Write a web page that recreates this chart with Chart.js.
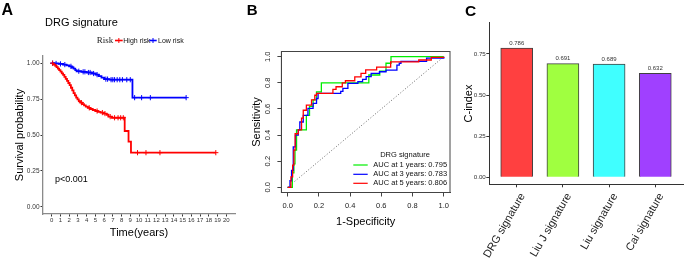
<!DOCTYPE html>
<html><head><meta charset="utf-8">
<script src="https://cdn.jsdelivr.net/npm/chart.js@4.4.1/dist/chart.umd.min.js"></script>
<style>
html,body{margin:0;padding:0;background:#fff;width:685px;height:259px;overflow:hidden;}
canvas{position:absolute;top:0;}
</style></head><body>
<canvas id="a" width="240" height="259" style="left:0px"></canvas>
<canvas id="b" width="220" height="259" style="left:240px"></canvas>
<canvas id="c" width="225" height="259" style="left:460px"></canvas>
<script>
// ---------- Panel A: Kaplan-Meier ----------
const kmTimeTicks = [0,1,2,3,4,5,6,7,8,9,10,11,12,13,14,15,16,17,18,19,20];
const survTicks = [0,0.25,0.5,0.75,1];
const highRiskTime = [0,0.12,0.25,0.4,0.55,0.7,0.85,1.0,1.15,1.3,1.45,1.6,1.75,1.9,2.05,2.2,2.35,2.5,2.65,2.8,2.95,3.1,3.3,3.5,3.7,3.9,4.15,4.4,4.7,5.0,5.3,5.6,5.95,6.3,6.5,6.9,8.36,8.8,9.08];
const highRiskSurv = [1,0.995,0.99,0.982,0.972,0.962,0.952,0.941,0.929,0.918,0.905,0.891,0.877,0.862,0.847,0.829,0.81,0.792,0.776,0.76,0.748,0.736,0.725,0.715,0.706,0.697,0.689,0.681,0.674,0.667,0.661,0.656,0.649,0.641,0.628,0.62,0.528,0.454,0.377];
const highRiskCensor = [0.1,3.4,4.3,5.2,5.8,6.1,6.7,7.2,7.6,7.9,8.2,9.83,10.8,12.4,18.8];
const lowRiskTime = [0,0.3,0.8,1.3,1.7,2.0,2.3,2.5,2.7,2.85,3.4,4.0,4.6,5.05,5.4,5.7,6.0,6.6,9.25];
const lowRiskSurv = [1,0.998,0.995,0.99,0.985,0.978,0.97,0.962,0.952,0.944,0.94,0.935,0.928,0.92,0.91,0.9,0.889,0.885,0.76];
const lowRiskCensor = [0.1,0.5,1.0,1.5,2.2,3.1,3.6,3.8,4.2,4.4,4.8,5.2,6.2,6.4,6.8,7.0,7.2,7.5,7.8,8.1,8.6,9.0,9.5,10.3,11.3,15.4];
const riskNames = ['High risk','Low risk'];
const kmTitle = 'DRG signature';
const pValueText = 'p<0.001';

// ---------- Panel B: ROC ----------
const rocTicks = [0,0.2,0.4,0.6,0.8,1.0];
const roc1Fpr = [0,0.015,0.03,0.04,0.047,0.057,0.12,0.14,0.163,0.185,0.216,0.52,0.59,0.63,0.662,1.0];
const roc1Tpr = [0,0,0.11,0.18,0.285,0.44,0.55,0.62,0.67,0.73,0.80,0.86,0.89,0.95,1.0,1.0];
const roc3Fpr = [0,0.015,0.025,0.036,0.05,0.068,0.078,0.10,0.13,0.163,0.185,0.195,0.34,0.354,0.386,0.45,0.48,0.503,0.535,0.588,0.63,0.70,0.715,0.726,0.89,1.0];
const roc3Tpr = [0,0.05,0.13,0.31,0.40,0.44,0.50,0.55,0.605,0.643,0.68,0.72,0.735,0.758,0.796,0.81,0.827,0.847,0.873,0.885,0.898,0.935,0.95,0.965,0.99,1.0];
const roc5Fpr = [0,0.021,0.032,0.04,0.048,0.068,0.089,0.10,0.12,0.153,0.174,0.185,0.29,0.31,0.35,0.37,0.43,0.47,0.50,0.57,0.66,0.84,0.92,1.0];
const roc5Tpr = [0,0.08,0.17,0.285,0.41,0.44,0.53,0.59,0.63,0.67,0.705,0.72,0.75,0.77,0.80,0.816,0.845,0.873,0.90,0.92,0.96,0.975,0.995,1.0];
const rocLabels = ['AUC at 1 years: 0.795','AUC at 3 years: 0.783','AUC at 5 years: 0.806'];
const rocLegendTitle = 'DRG signature';

// ---------- Panel C: C-index ----------
const cindexNames = ['DRG signature','Liu J signature','Liu signature','Cai signature'];
const cindexValues = [0.786,0.691,0.689,0.632];
const cindexTicks = [0,0.25,0.5,0.75];
const cindexColors = ['#FF4040','#A0FF40','#40FFFF','#A040FF'];

const SANS = "'Liberation Sans', Arial, Helvetica, sans-serif";
const SERIF = "'Liberation Serif', 'Times New Roman', serif";
Chart.defaults.font.family = SANS;
Chart.defaults.animation = false;
Chart.defaults.responsive = false;
Chart.defaults.plugins.legend.display = false;
Chart.defaults.plugins.tooltip.enabled = false;

function txt(ctx, s, x, y, size, opts) {
  opts = opts || {};
  ctx.save();
  ctx.font = (opts.weight || '') + ' ' + size + 'px ' + (opts.family || SANS);
  ctx.fillStyle = opts.color || '#000';
  ctx.textAlign = opts.align || 'left';
  ctx.textBaseline = opts.baseline || 'alphabetic';
  ctx.fillText(s, x, y);
  ctx.restore();
}
function fixedTicks(arr) { return s => { s.ticks = arr.map(v => ({value: v})); }; }
function stepPts(xs, ys) { return xs.map((x, i) => ({x: x, y: ys[i]})); }
function kmCurve(times, surv, endT) { const p = stepPts(times, surv); p.push({x: endT, y: surv[surv.length-1]}); return p; }
function kmAt(times, surv, t) { let s = surv[0]; for (let i = 0; i < times.length; i++) if (times[i] <= t) s = surv[i]; return s; }
function censorPts(times, surv, cens) { return cens.map(t => ({x: t, y: kmAt(times, surv, t)})); }

// ---------- Chart A ----------
const plugA = {
  id: 'plugA',
  afterDraw(chart) {
    const ctx = chart.ctx;
    txt(ctx, 'A', 1.5, 15, 16, {weight: 'bold'});
    txt(ctx, kmTitle, 45, 25.5, 11);
    txt(ctx, pValueText, 55, 181.7, 9);
    // legend
    txt(ctx, 'Risk', 96.7, 40.5, 9, {family: SERIF, baseline: 'middle', color: '#222'});
    const items = [{c: '#FF0000', x0: 115, x1: 122.7, tx: 123.3, label: chart.data.datasets[0].label},
                   {c: '#0000FF', x0: 149.3, x1: 156.7, tx: 158, label: chart.data.datasets[1].label}];
    items.forEach(it => {
      ctx.save();
      ctx.strokeStyle = it.c; ctx.lineWidth = 1.6;
      ctx.beginPath(); ctx.moveTo(it.x0, 40.5); ctx.lineTo(it.x1, 40.5); ctx.stroke();
      const cx = (it.x0 + it.x1) / 2;
      ctx.lineWidth = 1;
      ctx.beginPath(); ctx.moveTo(cx, 38); ctx.lineTo(cx, 43); ctx.moveTo(cx - 2.5, 40.5); ctx.lineTo(cx + 2.5, 40.5); ctx.stroke();
      ctx.restore();
      txt(ctx, it.label, it.tx, 40.8, 7, {baseline: 'middle', color: '#111'});
    });
  }
};
new Chart(document.getElementById('a'), {
  type: 'line',
  data: {datasets: [
    {label: riskNames[0], data: kmCurve(highRiskTime, highRiskSurv, highRiskCensor[highRiskCensor.length-1]), borderColor: '#FF0000', borderWidth: 1.8, stepped: true, pointRadius: 0, fill: false},
    {label: riskNames[1], data: kmCurve(lowRiskTime, lowRiskSurv, lowRiskCensor[lowRiskCensor.length-1]), borderColor: '#0000FF', borderWidth: 1.8, stepped: true, pointRadius: 0, fill: false},
    {label: riskNames[0] + ' censored', data: censorPts(highRiskTime, highRiskSurv, highRiskCensor), showLine: false, pointStyle: 'cross', pointRadius: 2.6, pointBorderWidth: 1, pointBorderColor: '#FF0000'},
    {label: riskNames[1] + ' censored', data: censorPts(lowRiskTime, lowRiskSurv, lowRiskCensor), showLine: false, pointStyle: 'cross', pointRadius: 2.6, pointBorderWidth: 1, pointBorderColor: '#0000FF'}
  ]},
  options: {
    layout: {padding: {top: 56, right: 2, left: 0, bottom: 0}},
    scales: {
      x: {type: 'linear', min: -1, max: 21,
          afterFit: s => { s.height = 45; }, afterBuildTicks: fixedTicks(kmTimeTicks),
          ticks: {font: {size: 6}, color: '#333', padding: 0, autoSkip: false, maxRotation: 0, minRotation: 0, callback: v => String(v)},
          grid: {drawOnChartArea: false, drawTicks: true, tickLength: 2.5, color: '#333'},
          border: {color: '#8a8a8a', width: 1.3},
          title: {display: true, text: 'Time(years)', font: {size: 11}, color: '#000', padding: {top: 0, bottom: 19.4}}},
      y: {type: 'linear', min: -0.05, max: 1.05,
          afterFit: s => { s.width = 43; }, afterBuildTicks: fixedTicks(survTicks),
          ticks: {font: {size: 6.5}, color: '#333', padding: 1, callback: v => v.toFixed(2)},
          grid: {drawOnChartArea: false, drawTicks: true, tickLength: 2.5, color: '#333'},
          border: {color: '#8a8a8a', width: 1.3},
          title: {display: true, text: 'Survival probability', font: {size: 11}, color: '#000', padding: {top: 13.4, bottom: 0}}}
    }
  },
  plugins: [plugA]
});

// ---------- Chart B ----------
const rocColors = ['#00EE00','#0000FF','#FF0000'];
const plugB = {
  id: 'plugB',
  afterDraw(chart) {
    const ctx = chart.ctx, a = chart.chartArea;
    ctx.save(); ctx.strokeStyle = '#444'; ctx.lineWidth = 1;
    ctx.strokeRect(a.left, a.top, a.right - a.left, a.bottom - a.top); ctx.restore();
    txt(ctx, 'B', 6.7, 15, 15, {weight: 'bold'});
    txt(ctx, rocLegendTitle, 165, 155, 7.5, {align: 'center', baseline: 'middle', color: '#111'});
    const ys = [165, 174.3, 183.3];
    rocLabels.forEach((lab, i) => {
      ctx.save(); ctx.strokeStyle = rocColors[i]; ctx.lineWidth = 1.2;
      ctx.beginPath(); ctx.moveTo(113.3, ys[i]); ctx.lineTo(127.7, ys[i]); ctx.stroke(); ctx.restore();
      txt(ctx, lab, 133.3, ys[i], 7.5, {baseline: 'middle', color: '#111'});
    });
  }
};
new Chart(document.getElementById('b'), {
  type: 'line',
  data: {datasets: [
    {label: rocLabels[2], data: stepPts(roc5Fpr, roc5Tpr), borderColor: rocColors[2], borderWidth: 1.3, stepped: true, pointRadius: 0, fill: false},
    {label: rocLabels[1], data: stepPts(roc3Fpr, roc3Tpr), borderColor: rocColors[1], borderWidth: 1.3, stepped: true, pointRadius: 0, fill: false},
    {label: rocLabels[0], data: stepPts(roc1Fpr, roc1Tpr), borderColor: rocColors[0], borderWidth: 1.3, stepped: true, pointRadius: 0, fill: false},
    {label: 'reference', data: [{x: 0, y: 0}, {x: 1, y: 1}], borderColor: '#666', borderWidth: 1, borderDash: [1, 2], pointRadius: 0, fill: false}
  ]},
  options: {
    layout: {padding: {top: 51.5, right: 10, left: 0, bottom: 0}},
    scales: {
      x: {type: 'linear', min: -0.04, max: 1.04,
          afterFit: s => { s.height = 66.5; }, afterBuildTicks: fixedTicks(rocTicks),
          ticks: {font: {size: 7.5}, color: '#222', padding: 5.3, maxRotation: 0, minRotation: 0, callback: v => v.toFixed(1)},
          grid: {drawOnChartArea: false, drawTicks: true, tickLength: 4, color: '#444'},
          border: {color: '#444', width: 1},
          title: {display: true, text: '1-Specificity', font: {size: 11}, color: '#000', padding: {top: 0, bottom: 30.7}}},
      y: {type: 'linear', min: -0.04, max: 1.04,
          afterFit: s => { s.width = 41.4; }, afterBuildTicks: fixedTicks(rocTicks),
          ticks: {font: {size: 7.5}, color: '#222', padding: 4.5, minRotation: 90, maxRotation: 90, crossAlign: 'center', callback: v => v.toFixed(1)},
          grid: {drawOnChartArea: false, drawTicks: true, tickLength: 4, color: '#444'},
          border: {color: '#444', width: 1},
          title: {display: true, text: 'Sensitivity', font: {size: 11}, color: '#000', padding: {top: 10.1, bottom: 0}}}
    }
  },
  plugins: [plugB]
});

// ---------- Chart C ----------
const plugC = {
  id: 'plugC',
  afterDraw(chart) {
    const ctx = chart.ctx;
    txt(ctx, 'C', 5, 16, 15.5, {weight: 'bold'});
    const meta = chart.getDatasetMeta(0);
    meta.data.forEach((el, i) => {
      txt(ctx, cindexValues[i].toFixed(3), el.x, el.y - 2, 6, {align: 'center', baseline: 'bottom', color: '#333'});
    });
  }
};
new Chart(document.getElementById('c'), {
  type: 'bar',
  data: {datasets: [{label: 'C-index', data: cindexValues.map((v, i) => ({x: i + 1, y: v})),
    backgroundColor: cindexColors, borderColor: '#404040', borderWidth: 1, barThickness: 32}]},
  options: {
    layout: {padding: {top: 22.7, right: 2, left: 0, bottom: 0}},
    scales: {
      x: {type: 'linear', min: 0.4, max: 4.6, offset: false,
          afterFit: s => { s.height = 74.7; }, afterBuildTicks: fixedTicks([1, 2, 3, 4]),
          ticks: {font: {size: 11}, color: '#222', padding: 3.5, labelOffset: 6, autoSkip: false, minRotation: 60, maxRotation: 60, callback: v => cindexNames[v - 1]},
          grid: {offset: false, drawOnChartArea: false, drawTicks: true, tickLength: 3, color: '#333'},
          border: {color: '#333', width: 1}},
      y: {type: 'linear', min: -0.0426, max: 0.9403,
          afterFit: s => { s.width = 29; }, afterBuildTicks: fixedTicks(cindexTicks),
          ticks: {font: {size: 6.2}, color: '#333', padding: 0.5, callback: v => v.toFixed(2)},
          grid: {drawOnChartArea: false, drawTicks: true, tickLength: 2.7, color: '#333'},
          border: {color: '#333', width: 1},
          title: {display: true, text: 'C-index', font: {size: 11}, color: '#000', padding: {top: 1.9, bottom: 0}}}
    }
  },
  plugins: [plugC]
});
</script></body></html>
